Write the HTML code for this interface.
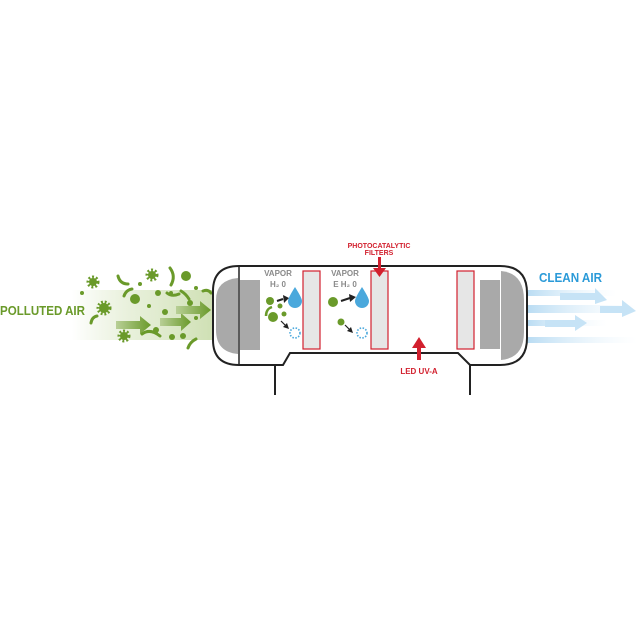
<!DOCTYPE html>
<html><head><meta charset="utf-8"><style>
html,body{margin:0;padding:0;background:#fff;}
svg{display:block;}
text{font-family:"Liberation Sans",sans-serif;font-weight:bold;}
</style></head><body>
<svg width="640" height="640" viewBox="0 0 640 640" xmlns="http://www.w3.org/2000/svg">
<defs>
<linearGradient id="gg" x1="0" x2="1" y1="0" y2="0">
<stop offset="0" stop-color="#dfe9cc" stop-opacity="0"/>
<stop offset="0.4" stop-color="#e3edd3" stop-opacity="0.8"/>
<stop offset="1" stop-color="#cfe0b4"/>
</linearGradient>
<linearGradient id="ga" x1="0" x2="1" y1="0" y2="0">
<stop offset="0" stop-color="#b8cf96"/><stop offset="1" stop-color="#6a9a2a"/>
</linearGradient>
<linearGradient id="bg" x1="0" x2="1" y1="0" y2="0">
<stop offset="0" stop-color="#b9dcf3"/><stop offset="1" stop-color="#e8f4fc" stop-opacity="0"/>
</linearGradient>
</defs>
<rect x="72" y="290" width="141" height="50" fill="url(#gg)"/>
<text x="0" y="315" font-size="13" fill="#6a9a2a" textLength="85" lengthAdjust="spacingAndGlyphs">POLLUTED AIR</text>
<g fill="url(#ga)">
<polygon points="116,321 140,321 140,316 151,325 140,334 140,329 116,329"/>
<polygon points="160,318 181,318 181,313 191,322 181,331 181,326 160,326"/>
<polygon points="176,306 200,306 200,301 211,310 200,319 200,314 176,314"/>
</g>
<g fill="#6a9a2a">
<circle cx="186" cy="276" r="5"/><circle cx="135" cy="299" r="5"/><circle cx="158" cy="293" r="3"/>
<circle cx="165" cy="312" r="3"/><circle cx="171" cy="293" r="2"/><circle cx="156" cy="330" r="3"/>
<circle cx="172" cy="337" r="3"/><circle cx="183" cy="336" r="3"/><circle cx="140" cy="284" r="2"/>
<circle cx="82" cy="293" r="2"/><circle cx="196" cy="288" r="2"/><circle cx="190" cy="303" r="3"/>
<circle cx="196" cy="318" r="2"/><circle cx="149" cy="306" r="2"/>
<circle cx="93" cy="282" r="4"/><circle cx="152" cy="275" r="4"/><circle cx="104" cy="308" r="5"/><circle cx="124" cy="336" r="4"/>
</g>
<g stroke="#6a9a2a" stroke-width="5" stroke-dasharray="1.5 1.5" fill="none">
<circle cx="93" cy="282" r="4"/><circle cx="152" cy="275" r="4"/><circle cx="104" cy="308" r="5"/><circle cx="124" cy="336" r="4"/>
</g>
<g stroke="#6a9a2a" stroke-width="3" fill="none" stroke-linecap="round">
<path d="M118,276 Q120,284 128,284"/><path d="M170,268 Q176,276 171,285"/>
<path d="M124,296 Q126,290 132,289"/><path d="M181,291 Q186,294 189,299"/>
<path d="M91,323 Q92,317 97,316"/><path d="M142,334 Q150,328 160,336"/>
<path d="M188,348 Q190,342 196,339"/><path d="M203,291 Q208,289 211,293"/>
<path d="M167,293 Q172,297 179,294"/>
</g>
<g fill="url(#bg)">
<rect x="527" y="290" width="90" height="6"/><rect x="527" y="305" width="110" height="8"/>
<rect x="527" y="320" width="80" height="6"/><rect x="527" y="337" width="110" height="6"/>
</g>
<g fill="#c6e3f6">
<polygon points="595,293 595,288 607,300 595,304 595,300 560,300 560,293"/>
<polygon points="622,306 622,300 636,311 622,317 622,313 600,313 600,306"/>
<polygon points="575,320 575,315 587,323 575,331 575,327 545,327 545,320"/>
</g>
<text x="539" y="282" font-size="13" fill="#2a9ad8" textLength="63" lengthAdjust="spacingAndGlyphs">CLEAN AIR</text>
<path d="M239,266 L500,266 Q527,266 527,293 L527,338 Q527,365 500,365 L470,365 L458,353 L290,353 L283,365 L239,365 Q213,365 213,340 L213,291 Q213,266 239,266 Z" fill="#fff" stroke="#222" stroke-width="2"/>
<line x1="239" y1="266" x2="239" y2="365" stroke="#222" stroke-width="1.5"/>
<line x1="275" y1="365" x2="275" y2="395" stroke="#222" stroke-width="2"/>
<line x1="470" y1="365" x2="470" y2="395" stroke="#222" stroke-width="2"/>
<path d="M238,278 L238,354 Q216,352 216,330 L216,300 Q216,280 238,278 Z" fill="#a9a9a9"/>
<rect x="240" y="280" width="20" height="70" fill="#a9a9a9"/>
<path d="M501,271 Q524,273 524,300 L524,332 Q524,358 501,360 Z" fill="#a9a9a9"/>
<rect x="480" y="280" width="20" height="69" fill="#a9a9a9"/>
<g fill="#e6e6e6" stroke="#d2202e" stroke-width="1.2">
<rect x="303" y="271" width="17" height="78"/><rect x="371" y="271" width="17" height="78"/><rect x="457" y="271" width="17" height="78"/>
</g>
<g font-size="8" fill="#8a8a8a" text-anchor="middle">
<text x="278" y="276">VAPOR</text><text x="278" y="287">H₂ 0</text>
<text x="345" y="276">VAPOR</text><text x="345" y="287">E H₂ 0</text>
</g>
<g fill="#4aa8dc">
<path d="M295,287 Q302,298 302,301 A7,7 0 0 1 288,301 Q288,298 295,287 Z"/>
<path d="M362,287 Q369,298 369,301 A7,7 0 0 1 355,301 Q355,298 362,287 Z"/>
</g>
<g fill="none" stroke="#4aa8dc" stroke-width="1.6" stroke-dasharray="1.5 1.5">
<circle cx="295" cy="333" r="5"/><circle cx="362" cy="333" r="5"/>
</g>
<g fill="#6a9a2a">
<circle cx="270" cy="301" r="4"/><circle cx="280" cy="306" r="2.5"/><circle cx="284" cy="314" r="2.5"/><circle cx="273" cy="317" r="5"/>
<circle cx="333" cy="302" r="5"/><circle cx="341" cy="322" r="3.5"/>
</g>
<path d="M266,316 Q266,309 272,307" stroke="#6a9a2a" stroke-width="2.5" fill="none"/>
<g stroke="#222" stroke-width="2" fill="#222">
<line x1="277" y1="301" x2="283" y2="299"/><polygon points="283,295 289,298 284,303" stroke="none"/>
<line x1="341" y1="301" x2="350" y2="298"/><polygon points="349,294 356,297 350,302" stroke="none"/>
<line x1="281" y1="321" x2="285" y2="325" stroke-width="1.2"/><polygon points="283,327 289,329 287,323" stroke="none"/>
<line x1="345" y1="325" x2="349" y2="329" stroke-width="1.2"/><polygon points="347,331 353,333 351,327" stroke="none"/>
</g>
<g fill="#d2202e">
<text x="379" y="248" font-size="7" text-anchor="middle">PHOTOCATALYTIC</text>
<text x="379" y="255" font-size="7" text-anchor="middle">FILTERS</text>
<rect x="378" y="257" width="3" height="13"/><polygon points="373,268 386,268 379.5,277"/>
<rect x="417" y="346" width="4" height="14"/><polygon points="412,348 426,348 419,337"/>
<text x="419" y="374" font-size="8" text-anchor="middle">LED UV-A</text>
</g>
</svg>
</body></html>
